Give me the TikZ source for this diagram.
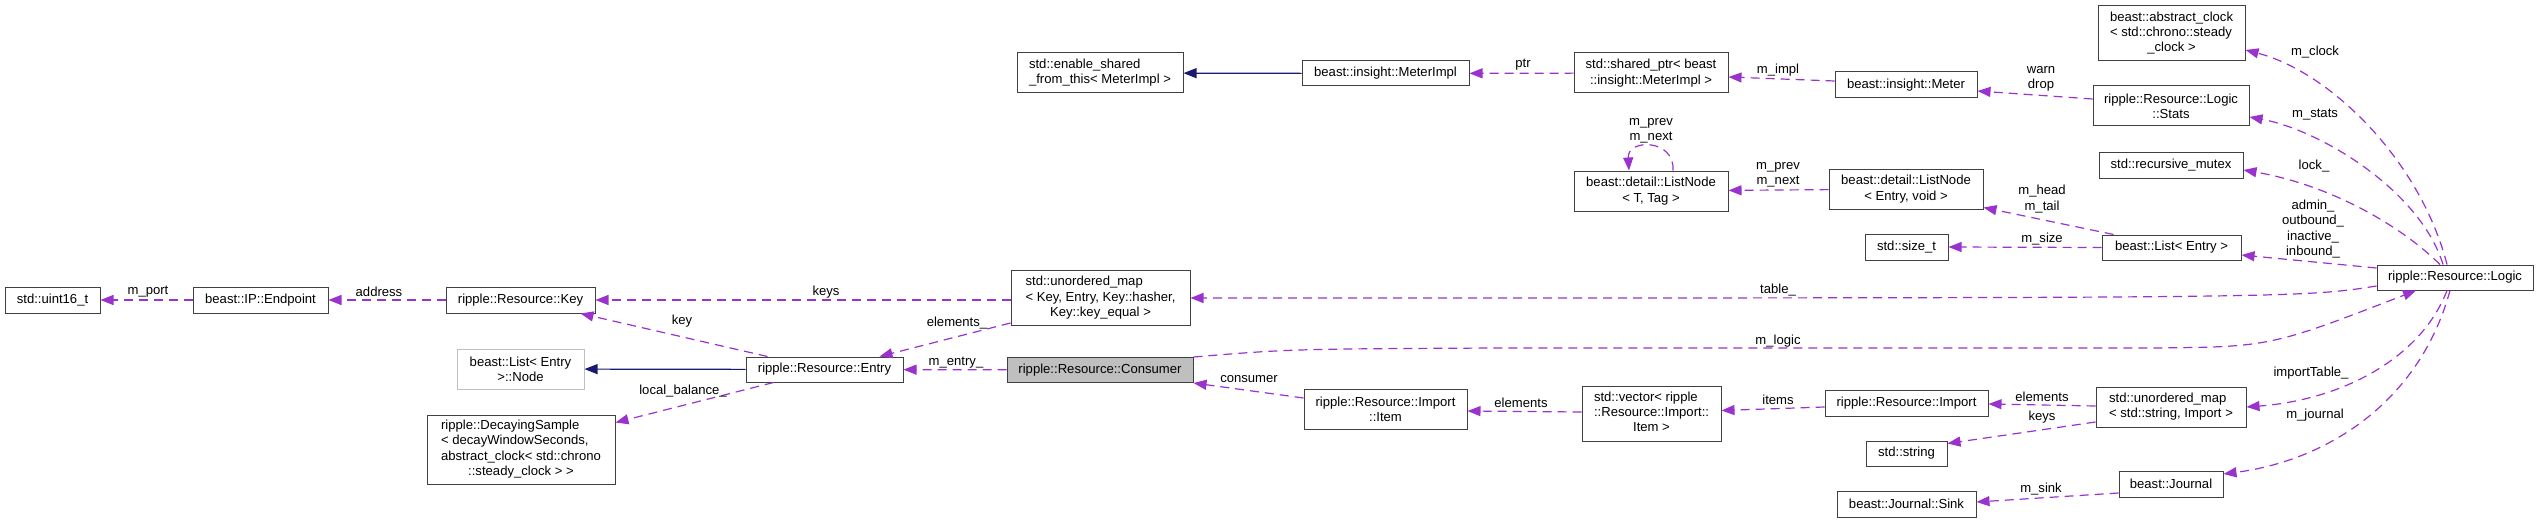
\documentclass[tikz,border=0pt]{standalone}
\usepackage{fontspec}
\setmainfont{Liberation Sans}
\usetikzlibrary{arrows.meta}
\definecolor{usecol}{HTML}{9A32CD}
\definecolor{inhcol}{HTML}{191970}
\newcommand\dgfont{\fontsize{13.1}{15.3}\selectfont}

\begin{document}
\begin{tikzpicture}[x=1pt,y=-1pt,
  cls/.style={draw=black!75,line width=1pt,fill=white,inner sep=1pt,minimum height=26pt,font=\dgfont,align=center},
  extcls/.style={cls,draw=black!25},
  curcls/.style={cls,fill=black!25},
  member/.style={draw=usecol,line width=1.2pt,dash pattern=on 9pt off 6pt,-{Triangle[length=13pt,width=10pt]}},
  inherit/.style={draw=inhcol,line width=1.2pt,-{Triangle[length=13pt,width=10pt]}},
  lbl/.style={font=\dgfont,align=center,inner sep=0pt}]
\useasboundingbox (0,0) rectangle (2539,524);

\node[cls,minimum width=95] (uint) at (52.5,300) {std::uint16\_t};
\node[cls,minimum width=135] (endpoint) at (260.5,300) {beast::IP::Endpoint};
\node[cls,minimum width=149] (key) at (520.5,300) {ripple::Resource::Key};
\node[extcls,minimum width=127,minimum height=40] (lnode) at (520.5,369) {beast::List< Entry\\ >::Node};
\node[cls,minimum width=188,minimum height=69] (decay) at (521,449.5) {\begin{tabular}{@{}l@{}}ripple::DecayingSample\\< decayWindowSeconds,\\\multicolumn{1}{@{}c@{}}{abstract\_clock< std::chrono}\\\multicolumn{1}{@{}c@{}}{::steady\_clock > >}\end{tabular}};
\node[cls,minimum width=157,minimum height=25] (entry) at (824.5,369.5) {ripple::Resource::Entry};
\node[cls,minimum width=179,minimum height=55] (umap) at (1100.5,298) {\begin{tabular}{@{}l@{}}std::unordered\_map\\< Key, Entry, Key::hasher,\\\multicolumn{1}{@{}c@{}}{Key::key\_equal >}\end{tabular}};
\node[curcls,minimum width=186,minimum height=25] (consumer) at (1100,370) {ripple::Resource::Consumer};
\node[cls,minimum width=166,minimum height=40] (enable) at (1100,73) {\begin{tabular}{@{}l@{}}std::enable\_shared\\\_from\_this< MeterImpl >\end{tabular}};
\node[cls,minimum width=167,minimum height=25] (meterimpl) at (1385.5,73.5) {beast::insight::MeterImpl};
\node[cls,minimum width=163,minimum height=40] (item) at (1385.5,409) {ripple::Resource::Import\\::Item};
\node[cls,minimum width=154,minimum height=40] (sharedptr) at (1651,73) {std::shared\_ptr< beast\\::insight::MeterImpl >};
\node[cls,minimum width=142] (meter) at (1906,85) {beast::insight::Meter};
\node[cls,minimum width=154,minimum height=40] (lnodeT) at (1651,191) {beast::detail::ListNode\\< T, Tag >};
\node[cls,minimum width=154,minimum height=40] (lnodeE) at (1906,189) {beast::detail::ListNode\\< Entry, void >};
\node[cls,minimum width=83] (sizet) at (1906.5,247) {std::size\_t};
\node[cls,minimum width=139,minimum height=55] (vec) at (1651.5,413.5) {\begin{tabular}{@{}l@{}}std::vector< ripple\\::Resource::Import::\\\multicolumn{1}{@{}c@{}}{Item >}\end{tabular}};
\node[cls,minimum width=163] (import) at (1906.5,403) {ripple::Resource::Import};
\node[cls,minimum width=81,minimum height=25] (string) at (1906.5,453.5) {std::string};
\node[cls,minimum width=139] (sink) at (1906.5,504) {beast::Journal::Sink};
\node[cls,minimum width=147,minimum height=55] (aclock) at (2171.5,33.5) {\begin{tabular}{@{}l@{}}beast::abstract\_clock\\< std::chrono::steady\\\multicolumn{1}{@{}c@{}}{\_clock >}\end{tabular}};
\node[cls,minimum width=156,minimum height=40] (stats) at (2171,106) {ripple::Resource::Logic\\::Stats};
\node[cls,minimum width=144] (mutex) at (2171,165) {std::recursive\_mutex};
\node[cls,minimum width=139,minimum height=25] (list) at (2171.5,247.5) {beast::List< Entry >};
\node[cls,minimum width=156,minimum height=25] (logic) at (2455,277.5) {ripple::Resource::Logic};
\node[cls,minimum width=150,minimum height=40] (umapS) at (2171,407) {\begin{tabular}{@{}l@{}}std::unordered\_map\\< std::string, Import >\end{tabular}};
\node[cls,minimum width=104] (journal) at (2171,484) {beast::Journal};

\draw[member] (endpoint) -- (uint);
\draw[member] (key) -- (endpoint);
\draw[member] (umap.west |- key.east) -- (key.east);
\draw[member] ([yshift=-25pt]umap.west) -- ([xshift=55pt]entry.north);
\draw[member] ([xshift=-57pt]entry.north) -- ([xshift=60pt]key.south);
\draw[inherit] (entry) -- (lnode);
\draw[member] ([xshift=-51pt]entry.south) -- ([yshift=-8pt]decay.north east);
\draw[member] (consumer) -- (entry);
\draw[inherit] (meterimpl) -- (enable);
\draw[member] (sharedptr) -- (meterimpl);
\draw[member] ([yshift=4pt]meter.west) -- ([yshift=-4pt]sharedptr.east);
\draw[member] ([yshift=7pt]stats.west) -- ([yshift=-6pt]meter.east);
\draw[member] (lnodeE) -- (lnodeT);
\draw[member] ([xshift=22pt]lnodeT.north) .. controls +(2,-32) and +(-2,-32) .. ([xshift=-22pt]lnodeT.north);
\draw[member] ([xshift=-58pt]list.north) -- ([yshift=2pt]lnodeE.south east);
\draw[member] (list.west) -- (sizet.east);
\draw[member] ([xshift=-8pt]logic.north) .. controls (2420,160) and (2330,72) .. ([yshift=-16.5pt]aclock.east);
\draw[member] ([xshift=-12pt]logic.north) .. controls (2420,190) and (2320,130) .. ([yshift=-11pt]stats.east);
\draw[member] ([xshift=-15pt]logic.north) .. controls (2400,225) and (2330,185) .. ([yshift=-5pt]mutex.east);
\draw[member] ([yshift=9.5pt]logic.west) -- ([yshift=-7.5pt]list.east);
\draw[member] ([yshift=-8.5pt]logic.west) .. controls (2300,298) .. (umap.east);
\draw[member] (consumer.north east) .. controls (1290,349) .. (1500,348) -- (2150,348) .. controls (2270,347) .. ([xshift=-39pt]logic.south);
\draw[member] ([xshift=-8pt]logic.south) .. controls (2420,360) and (2340,400) .. (umapS.east);
\draw[member] ([xshift=-5pt]logic.south) .. controls (2420,400) and (2330,460) .. ([yshift=10pt]journal.east);
\draw[member] ([yshift=1pt]umapS.west) -- ([yshift=-1pt]import.east);
\draw[member] ([yshift=-15pt]umapS.west) -- ([yshift=10pt]string.east);
\draw[member] ([yshift=-4pt]import.west) -- ([yshift=3pt]vec.east);
\draw[member] ([yshift=1.5pt]vec.west) -- ([yshift=-2pt]item.east);
\draw[member] ([yshift=11pt]item.west) -- (consumer.south east);
\draw[member] ([yshift=-9pt]journal.west) -- ([yshift=2pt]sink.east);

\node[lbl] (lport) at (148,292) {m\_port};
\node[lbl] (laddress) at (379,292) {address};
\node[lbl] (lkeys) at (826,292) {keys};
\node[lbl] (lelements) at (957,323) {elements\_};
\node[lbl] (lkey) at (682,321) {key};
\node[lbl] (lbalance) at (683,391) {local\_balance\_};
\node[lbl] (lentry) at (956,363) {m\_entry\_};
\node[lbl] (lptr) at (1523,65) {ptr};
\node[lbl] (limpl) at (1778,70) {m\_impl};
\node[lbl] (lwarn) at (2041,79) {warn\\drop};
\node[lbl] (lprev) at (1778,175) {m\_prev\\m\_next};
\node[lbl] (lself) at (1651,131) {m\_prev\\m\_next};
\node[lbl] (lhead) at (2042,199) {m\_head\\m\_tail};
\node[lbl] (lsize) at (2042,239) {m\_size};
\node[lbl] (lclock) at (2315,52) {m\_clock};
\node[lbl] (lstats) at (2315,115) {m\_stats};
\node[lbl] (llock) at (2314,166) {lock\_};
\node[lbl] (ladmin) at (2313,229) {admin\_\\outbound\_\\inactive\_\\inbound\_};
\node[lbl] (ltable) at (1778,290) {table\_};
\node[lbl] (llogic) at (1778,341) {m\_logic};
\node[lbl] (limport) at (2311,373) {importTable\_};
\node[lbl] (ljournal) at (2315,415) {m\_journal};
\node[lbl] (lelem) at (2042,397) {elements};
\node[lbl] (lkeysS) at (2042,417) {keys};
\node[lbl] (litems) at (1778,400) {items};
\node[lbl] (lelemV) at (1521,403) {elements};
\node[lbl] (lconsumer) at (1249,379) {consumer};
\node[lbl] (lsink) at (2041,489) {m\_sink};
\end{tikzpicture}
\end{document}
